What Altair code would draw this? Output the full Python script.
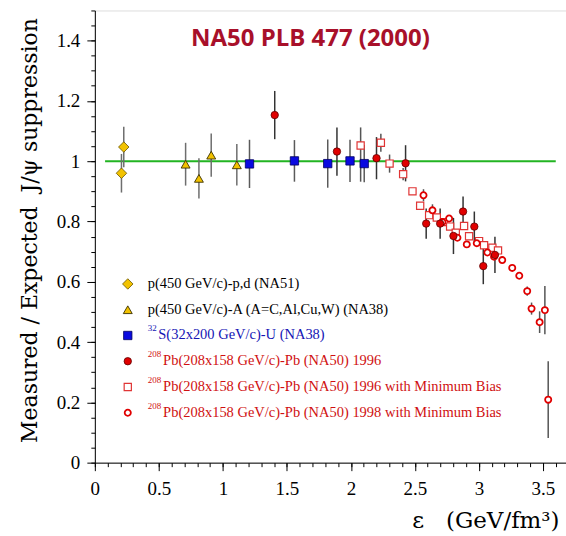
import altair as alt
import pandas as pd

# ---------------- data ----------------
na51_x = [0.208, 0.226]
na51_y = [0.960, 1.047]
na51_err = [0.064, 0.067]

na38_x = [0.709, 0.813, 0.909, 1.109]
na38_y = [0.990, 0.943, 1.020, 0.988]
na38_err = [0.071, 0.067, 0.072, 0.069]

su_x = [1.208, 1.559, 1.819, 1.993, 2.104]
su_y = [0.991, 1.001, 0.992, 1.001, 0.992]
su_err = [0.080, 0.069, 0.080, 0.070, 0.062]

pb96_x = [1.405, 1.891, 2.200, 2.427, 2.588, 2.697, 2.801, 2.876, 2.964, 3.034, 3.125]
pb96_y = [1.153, 1.032, 1.010, 0.993, 0.793, 0.793, 0.752, 0.833, 0.783, 0.652, 0.689]
pb96_err = [0.080, 0.080, 0.070, 0.060, 0.050, 0.050, 0.060, 0.050, 0.050, 0.060, 0.060]

pb96mb_x = [2.076, 2.234, 2.302, 2.408, 2.481, 2.541, 2.611, 2.671, 2.728, 2.775,
            2.819, 2.884, 2.923, 3.001, 3.040, 3.105, 3.149]
pb96mb_y = [1.052, 1.061, 0.992, 0.957, 0.900, 0.852, 0.821, 0.813, 0.798, 0.783,
            0.763, 0.785, 0.751, 0.735, 0.721, 0.713, 0.704]
pb96mb_err_lo = [0.120, 0.030, 0.030, 0.020, 0, 0, 0, 0, 0, 0, 0, 0, 0, 0, 0, 0, 0]
pb96mb_err_hi = [0.060, 0.030, 0.030, 0.020, 0, 0, 0, 0, 0, 0, 0, 0, 0, 0, 0, 0, 0]

pb98mb_x = [2.567, 2.637, 2.715, 2.767, 2.832, 2.905, 2.983, 3.066, 3.118, 3.182,
            3.260, 3.315, 3.377, 3.411, 3.474, 3.515, 3.541]
pb98mb_y = [0.887, 0.837, 0.798, 0.810, 0.746, 0.724, 0.728, 0.697, 0.683, 0.672,
            0.646, 0.620, 0.569, 0.511, 0.466, 0.506, 0.209]
pb98mb_err = [0.020, 0.020, 0, 0, 0, 0, 0, 0, 0, 0,
              0, 0, 0.015, 0.020, 0.036, 0.080, 0.127]

ref_x = [0.08, 3.60]
ref_y = 1.0

x_major = [0, 0.5, 1, 1.5, 2, 2.5, 3, 3.5]
x_minor = [round(i * 0.1, 2) for i in range(37)]
y_major = [0, 0.2, 0.4, 0.6, 0.8, 1, 1.2, 1.4]
y_minor = [round(i * 0.05, 2) for i in range(31)]

legend_labels = [
    "p(450 GeV/c)-p,d (NA51)",
    "p(450 GeV/c)-A (A=C,Al,Cu,W) (NA38)",
    "S(32x200 GeV/c)-U (NA38)",
    "Pb(208x158 GeV/c)-Pb (NA50) 1996",
    "Pb(208x158 GeV/c)-Pb (NA50) 1996 with Minimum Bias",
    "Pb(208x158 GeV/c)-Pb (NA50) 1998 with Minimum Bias",
]
legend_sups = ["", "", "32", "208", "208", "208"]

NBSP = "\u00a0"
x_title = "ε" + NBSP * 3 + "(GeV/fm³)"
y_title = "Measured / Expected" + NBSP * 2 + "J/ψ suppression"

# ---------------- styles ----------------
SERIF = "Liberation Serif"
AXFONT = "DejaVu Serif"
styles = [
    dict(shape="diamond", fill="#f2c200", stroke="#6a5600", sw=0.8, size=110, bar="#6e6e6e", text="#000000"),
    dict(shape="triangle-up", fill="#f2c200", stroke="#3a3000", sw=0.9, size=80, bar="#6e6e6e", text="#000000"),
    dict(shape="square", fill="#0a0ae0", stroke="#000060", sw=0.8, size=70, bar="#5a5a5a", text="#1414b4"),
    dict(shape="circle", fill="#e00000", stroke="#600000", sw=0.8, size=55, bar="#333333", text="#d01010"),
    dict(shape="square", fill="#ffffff", stroke="#e03535", sw=1.2, size=52, bar="#555555", text="#d01010"),
    dict(shape="circle", fill="#ffffff", stroke="#e00000", sw=1.8, size=38, bar="#555555", text="#d01010"),
]

xs = alt.Scale(domain=[0, 3.68], nice=False, zero=False)
ys = alt.Scale(domain=[0, 1.5], nice=False, zero=False)


def sdf(x, y, lo, hi):
    return pd.DataFrame({"x": x, "y": y,
                         "lo": [a - b for a, b in zip(y, lo)],
                         "hi": [a + b for a, b in zip(y, hi)]})


series = [
    sdf(na51_x, na51_y, na51_err, na51_err),
    sdf(na38_x, na38_y, na38_err, na38_err),
    sdf(su_x, su_y, su_err, su_err),
    sdf(pb96_x, pb96_y, pb96_err, pb96_err),
    sdf(pb96mb_x, pb96mb_y, pb96mb_err_lo, pb96mb_err_hi),
    sdf(pb98mb_x, pb98mb_y, pb98mb_err, pb98mb_err),
]

X = lambda: alt.X("x:Q", scale=xs, axis=None)
Y = lambda: alt.Y("y:Q", scale=ys, axis=None)

bars, marks = [], []
for df, st in zip(series, styles):
    b = df[df["hi"] > df["lo"]]
    bars.append(alt.Chart(b).mark_rule(color=st["bar"], strokeWidth=1.5).encode(
        x=X(), y=alt.Y("lo:Q", scale=ys, axis=None), y2="hi:Q"))
    marks.append(alt.Chart(df).mark_point(
        shape=st["shape"], filled=True, fill=st["fill"], stroke=st["stroke"],
        strokeWidth=st["sw"], size=st["size"], opacity=1).encode(x=X(), y=Y()))

# draw order: yellow, blue, open squares, open circles, filled red
mark_order = [0, 1, 2, 4, 5, 3]

ref_df = pd.DataFrame({"x": [ref_x[0]], "x2": [ref_x[1]], "y": [ref_y]})

axis_common = dict(grid=False, domainColor="#000000", tickColor="#000000",
                   labelColor="#000000", labelFont=SERIF, labelFontSize=19,
                   titleFont=AXFONT, titleFontWeight="normal", titleColor="#000000")

main_axes = alt.Chart(ref_df).mark_rule(color="#22b422", strokeWidth=2).encode(
    x=alt.X("x:Q", scale=xs, axis=alt.Axis(
        orient="bottom", values=x_major, format="~g", tickSize=8, labelPadding=9,
        labelFlush=False, labelOverlap=False, labelBound=False,
        title=x_title, titleFontSize=23, titleX=465, titleY=65,
        titleAlign="right", titleBaseline="alphabetic", **axis_common)),
    x2="x2:Q",
    y=alt.Y("y:Q", scale=ys, axis=alt.Axis(
        orient="left", values=y_major, format="~g", tickSize=8, labelPadding=7,
        labelFlush=False, labelOverlap=False, labelBound=False,
        title=y_title, titleFontSize=22,
        titleX=-65, titleY=220, titleAngle=270, titleAlign="center",
        titleBaseline="middle", **axis_common)),
)

minor_axes = alt.Chart(ref_df).mark_point(opacity=0).encode(
    x=alt.X("x:Q", scale=xs, axis=alt.Axis(
        orient="bottom", values=x_minor, tickSize=4, labels=False, domain=False,
        grid=False, title="", tickColor="#000000")),
    y=alt.Y("y:Q", scale=ys, axis=alt.Axis(
        orient="left", values=y_minor, tickSize=4, labels=False, domain=False,
        grid=False, title="", tickColor="#000000")),
)

# ---------------- legend (inside plot, lower-left) ----------------
LEG_TOP = 274      # plot-pixel y of first row
LEG_GAP = 25.8
SYM_X = 33
TXT_X = 53

leg = pd.DataFrame({
    "label": legend_labels,
    "sup": legend_sups,
    "row": list(range(len(legend_labels))),
    "tcolor": [s["text"] for s in styles],
    "shape": [s["shape"] for s in styles],
    "fill": [s["fill"] for s in styles],
    "stroke": [s["stroke"] for s in styles],
    "sw": [s["sw"] for s in styles],
    "size": [s["size"] for s in styles],
})

leg_base = alt.Chart(leg).transform_calculate(
    py=f"{LEG_TOP} + datum.row * {LEG_GAP}",
    tx=f"{TXT_X} + (datum.sup ? length(datum.sup) * 4.8 + 1 : 0)",
)

leg_sym = leg_base.mark_point(filled=True, opacity=1).encode(
    x=alt.value(SYM_X),
    y=alt.Y("py:Q", scale=None, axis=None),
    shape=alt.Shape("shape:N", scale=None, legend=None),
    fill=alt.Fill("fill:N", scale=None, legend=None),
    stroke=alt.Stroke("stroke:N", scale=None, legend=None),
    strokeWidth=alt.StrokeWidth("sw:Q", scale=None, legend=None),
    size=alt.Size("size:Q", scale=None, legend=None),
)

leg_txt = leg_base.mark_text(align="left", baseline="middle", font=SERIF, fontSize=14.5).encode(
    x=alt.X("tx:Q", scale=None, axis=None),
    y=alt.Y("py:Q", scale=None, axis=None),
    text="label:N",
    color=alt.Color("tcolor:N", scale=None, legend=None),
)

leg_sup = leg_base.transform_filter("datum.sup != ''").mark_text(
    align="left", baseline="middle", font=SERIF, fontSize=9, dy=-7).encode(
    x=alt.value(TXT_X),
    y=alt.Y("py:Q", scale=None, axis=None),
    text="sup:N",
    color=alt.Color("tcolor:N", scale=None, legend=None),
)

title_df = pd.DataFrame({"t": ["NA50 PLB 477 (2000)"]})
title = alt.Chart(title_df).mark_text(
    font="Open Sans", fontSize=24, fontWeight="bold", color="#a8102a",
    align="center", baseline="middle").encode(
    x=alt.value(216), y=alt.value(29), text="t:N")

layers = [minor_axes, main_axes] + bars + [marks[i] for i in mark_order] + [leg_sym, leg_sup, leg_txt, title]

chart = alt.layer(*layers).resolve_axis(x="independent", y="independent").properties(
    width=472, height=453,
    autosize=alt.AutoSizeParams(type="none"),
    padding={"left": 95, "top": 10, "right": 0, "bottom": 73},
).configure_view(stroke="#333333", strokeWidth=1).configure(background="white")

chart.save("out.html", embed_options={"renderer": "svg", "actions": False})
